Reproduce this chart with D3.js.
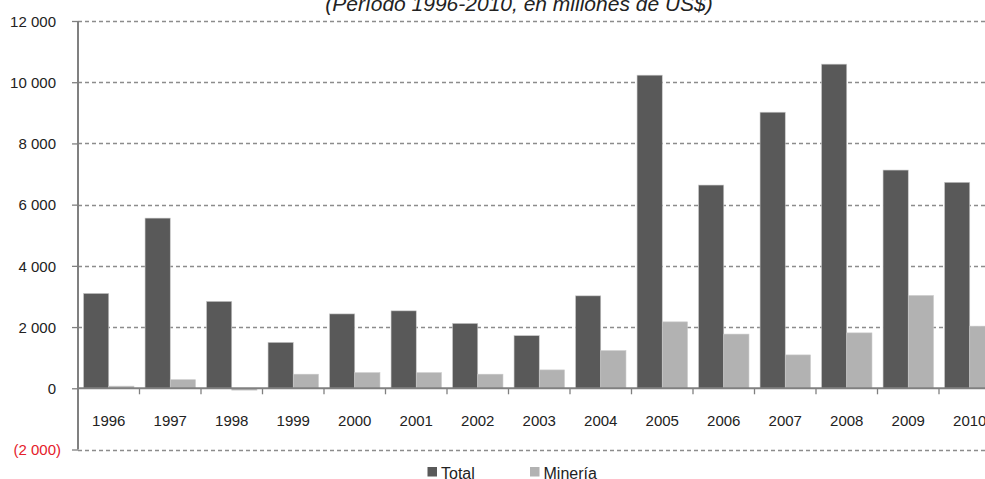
<!DOCTYPE html>
<html><head><meta charset="utf-8">
<script src="https://cdn.jsdelivr.net/npm/d3@7"></script>
<style>
html,body{margin:0;padding:0;background:#fff;overflow:hidden}
text{font-family:"Liberation Sans",Arial,sans-serif}
</style></head>
<body><svg id="c" width="985" height="479"></svg>
<script>
const years = ["1996","1997","1998","1999","2000","2001","2002","2003","2004","2005","2006","2007","2008","2009","2010"];
const totalValues = [3100,5560,2840,1500,2430,2530,2120,1720,3020,10230,6640,9020,10590,7130,6730];
const mineriaValues = [70,280,-60,460,510,510,460,600,1230,2170,1770,1090,1810,3030,2030];
const seriesNames = ["Total","Minería"];
const seriesColors = ["#595959","#b2b2b2"];
const yTicks = [-2000,0,2000,4000,6000,8000,10000,12000];
const title = "(Período 1996-2010, en millones de US$)";

const svg = d3.select("#c");
const x0 = 78, x1 = 1000.5;
const x = d3.scaleBand().domain(years).range([x0,x1]).paddingInner(0).paddingOuter(0);
const y = d3.scaleLinear().domain([-2000,12000]).range([449.5,21]);
const inner = d3.scaleBand().domain(seriesNames).range([0,x.bandwidth()]).paddingInner(0).paddingOuter(0.22);
const fmt = v => { const s = d3.format(",")(Math.abs(v)).replace(/,/g," "); return v<0?"("+s+")":s; };

// gridlines
svg.append("g").selectAll("line").data(yTicks.filter(t=>t!==0)).join("line")
  .attr("x1",x0).attr("x2",985).attr("y1",d=>Math.round(y(d))+0.5).attr("y2",d=>Math.round(y(d))+0.5)
  .attr("stroke","#8c8c8c").attr("stroke-width",1.3).attr("stroke-dasharray","4,3");

// bars
const data = years.map((yr,i)=>({yr, vals:[totalValues[i],mineriaValues[i]]}));
const g = svg.append("g").selectAll("g").data(data).join("g").attr("transform",d=>`translate(${x(d.yr)},0)`);
g.selectAll("rect").data(d=>d.vals.map((v,j)=>({v,name:seriesNames[j],j}))).join("rect")
  .attr("x",d=>inner(d.name)).attr("width",inner.bandwidth())
  .attr("y",d=>y(Math.max(0,d.v))).attr("height",d=>Math.abs(y(d.v)-y(0)))
  .attr("fill",d=>seriesColors[d.j]).attr("stroke","#c8c8c8").attr("stroke-width",0.6);

// y axis
const yAxis = d3.axisLeft(y).tickValues(yTicks).tickSize(6).tickFormat(fmt);
const ya = svg.append("g").attr("transform",`translate(${x0},0)`).call(yAxis);
ya.select(".domain").attr("stroke","#808080").attr("stroke-width",2).attr("d",`M0,${y(12000)}V${y(-2000)}`);
ya.selectAll(".tick line").attr("stroke","#808080").attr("stroke-width",1.3);
ya.selectAll(".tick text").attr("font-size",15).attr("fill",d=>d<0?"#e5202a":"#222")
  .attr("x",d=>d<0?-17:-22).attr("dy","0.35em").style("font-family","'Liberation Sans',Arial,sans-serif");

// x axis at zero
const xAxis = d3.axisBottom(x).tickSize(0);
const xa = svg.append("g").attr("transform",`translate(0,${y(0)})`).call(xAxis);
xa.select(".domain").attr("stroke","#808080").attr("stroke-width",2).attr("d",`M${x0},0H985`);
xa.selectAll(".tick text").attr("font-size",15).attr("fill","#222").attr("y",37.5).attr("dy",0)
  .style("font-family","'Liberation Sans',Arial,sans-serif");
// boundary ticks
svg.append("g").selectAll("line").data(years.slice(1)).join("line")
  .attr("x1",d=>x(d)).attr("x2",d=>x(d)).attr("y1",y(0)).attr("y2",y(0)+6)
  .attr("stroke","#808080").attr("stroke-width",1.3);

// title
svg.append("text").attr("x",519).attr("y",11).attr("text-anchor","middle")
  .attr("font-size",21).attr("font-style","italic").attr("fill","#222").text(title);

// legend
const legX = [427.5,530];
const lg = svg.append("g").selectAll("g").data(seriesNames).join("g")
  .attr("transform",(d,i)=>`translate(${legX[i]},0)`);
lg.append("rect").attr("x",0).attr("y",467).attr("width",9.5).attr("height",9.5).attr("fill",(d,i)=>seriesColors[i]);
lg.append("text").attr("x",13.5).attr("y",479).attr("font-size",16).attr("fill","#222").text(d=>d);
</script></body></html>
